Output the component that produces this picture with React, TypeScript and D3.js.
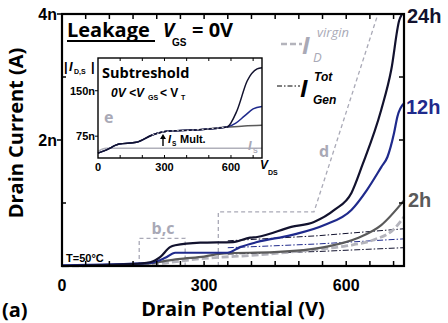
import React, { useEffect, useRef } from 'react';
import * as d3 from 'd3';

// main panel: drain potential (V) vs drain current (nA)
const v24 = [0, 144, 186, 207, 228, 239, 292, 361, 397, 412, 484, 532, 575, 611, 634, 674, 695, 712, 718];
const i24 = [0, 0.03, 0.06, 0.14, 0.3, 0.33, 0.37, 0.38, 0.45, 0.46, 0.62, 0.7, 0.89, 1.16, 1.6, 2.48, 3.11, 3.9, 4.0];

const v12 = [0, 186, 218, 239, 349, 376, 412, 484, 554, 611, 644, 674, 687, 701, 708, 723];
const i12 = [0.01, 0.05, 0.13, 0.21, 0.21, 0.3, 0.38, 0.49, 0.65, 0.89, 1.21, 1.57, 1.73, 2.11, 2.37, 2.59];

const v2 = [0, 186, 218, 245, 300, 342, 448, 554, 623, 674, 723];
const i2 = [0, 0.04, 0.08, 0.11, 0.15, 0.2, 0.22, 0.3, 0.44, 0.65, 1.05];

const vVirgin = [0, 186, 300, 420, 520, 600, 660, 700, 722];
const iVirgin = [0, 0.03, 0.12, 0.18, 0.25, 0.32, 0.42, 0.58, 0.78];

const vGen = [350, 540, 720];
const iGen24 = [0.4, 0.48, 0.59];
const iGen12 = [0.29, 0.35, 0.43];
const iGen2 = [0.19, 0.23, 0.29];

// dashed regions b,c and d
const boxBC = [163, 260, 0.44];
const boxD = [[330, 0], [330, 0.86], [532, 0.86], [667, 4.0]];

// inset: subthreshold |I_D,S| (nA) vs V_DS
const insV24 = [0, 36, 95, 173, 245, 309, 427, 582, 627, 673, 718, 740];
const insI24 = [47, 52, 62, 65, 77, 83, 85, 90, 117, 166, 186, 188];
const insV12 = [0, 36, 95, 173, 245, 309, 427, 582, 620, 660, 700, 740];
const insI12 = [47, 52, 62, 65, 77, 83, 85, 90, 96, 108, 120, 124];
const insV2 = [0, 36, 95, 173, 245, 309, 427, 582, 660, 740];
const insI2 = [47, 52, 62, 65, 77, 83, 85, 90, 92, 93];
const insVS = [0, 36, 740];
const insIS = [50, 55, 55];

const xTicks = [0, 300, 600];
const yTicks = [2, 4];
const insXTicks = [0, 300, 600];
const insYTicks = [75, 150];

const C24 = '#12122e';
const C12 = '#1f2a8c';
const C2 = '#5a5a5a';
const CGREY = '#a9a9b6';
const FT = "'Open Sans', 'DejaVu Sans', sans-serif";
const FA = "'Liberation Sans', Arial, sans-serif";

const zip = (a: number[], b: number[]) => a.map((v, i) => [v, b[i]] as [number, number]);

const App: React.FC = () => {
  const svgRef = useRef<SVGSVGElement>(null);

  useEffect(() => {
    if (!svgRef.current) return;
    const svg = d3.select(svgRef.current);
    svg.selectAll('*').remove();

    const txt = (
      x: number, y: number, s: string,
      o: { size: number; fill?: string; anchor?: string; italic?: boolean; family?: string; weight?: string }
    ) =>
      svg.append('text')
        .attr('x', x).attr('y', y)
        .attr('font-size', o.size)
        .attr('font-family', o.family || FA)
        .attr('font-weight', o.weight || 'bold')
        .attr('font-style', o.italic ? 'italic' : 'normal')
        .attr('text-anchor', o.anchor || 'start')
        .attr('fill', o.fill || '#000')
        .text(s);

    // Main scales
    const x = d3.scaleLinear().domain([0, 722]).range([62, 404]);
    const y = d3.scaleLinear().domain([0, 4]).range([266, 14]);

    const line = d3.line<[number, number]>()
      .x(d => x(d[0]))
      .y(d => y(d[1]))
      .curve(d3.curveMonotoneX);

    // Dashed region boxes
    svg.append('path')
      .attr('d', `M${x(boxBC[0])},${y(0)}V${y(boxBC[2])}H${x(boxBC[1])}V${y(0)}`)
      .attr('fill', 'none').attr('stroke', CGREY).attr('stroke-width', 1.3)
      .attr('stroke-dasharray', '4,3');
    svg.append('path')
      .attr('d', d3.line<number[]>().x(d => x(d[0])).y(d => y(d[1]))(boxD))
      .attr('fill', 'none').attr('stroke', CGREY).attr('stroke-width', 1.3)
      .attr('stroke-dasharray', '4,3');

    // Generation current (dash-dot)
    [[iGen2, C24], [iGen12, C12], [iGen24, C24]].forEach(([ys, c]) => {
      svg.append('path')
        .attr('d', d3.line<[number, number]>().x(d => x(d[0])).y(d => y(d[1]))(zip(vGen, ys as number[])))
        .attr('fill', 'none').attr('stroke', c as string).attr('stroke-width', 1)
        .attr('stroke-dasharray', '6,2,1.5,2');
    });

    // Virgin drain current
    svg.append('path').attr('d', line(zip(vVirgin, iVirgin)))
      .attr('fill', 'none').attr('stroke', '#b4b4bc').attr('stroke-width', 2.8)
      .attr('stroke-dasharray', '7,3');

    // Stressed curves
    [[v2, i2, C2], [v12, i12, C12], [v24, i24, C24]].forEach(([xs, ys, c]) => {
      svg.append('path').attr('d', line(zip(xs as number[], ys as number[])))
        .attr('fill', 'none').attr('stroke', c as string).attr('stroke-width', 2.2);
    });

    // Frame
    svg.append('rect').attr('x', 62).attr('y', 14).attr('width', 342).attr('height', 252)
      .attr('fill', 'none').attr('stroke', '#000').attr('stroke-width', 2.2);

    // Tick marks
    const tk = svg.append('g').attr('stroke', '#000').attr('stroke-width', 1.5);
    d3.range(50, 722, 50).forEach(v => {
      tk.append('line').attr('x1', x(v)).attr('x2', x(v)).attr('y1', 266).attr('y2', 261);
      tk.append('line').attr('x1', x(v)).attr('x2', x(v)).attr('y1', 14).attr('y2', 19);
    });
    [1, 3].forEach(v => {
      tk.append('line').attr('x1', 62).attr('x2', 66).attr('y1', y(v)).attr('y2', y(v));
    });
    yTicks.forEach(v => {
      tk.append('line').attr('x1', 57).attr('x2', 62).attr('y1', y(v)).attr('y2', y(v));
    });
    [1, 2, 3].forEach(v => {
      tk.append('line').attr('x1', 404).attr('x2', 399).attr('y1', y(v)).attr('y2', y(v));
    });

    // Tick labels
    xTicks.forEach(v => txt(x(v), 291, String(v), { size: 16, anchor: 'middle' }));
    yTicks.forEach(v => txt(57, y(v) + 6, `${v}n`, { size: 16, anchor: 'end' }));

    // Axis titles
    svg.append('text')
      .attr('transform', 'translate(23,133) rotate(-90)')
      .attr('text-anchor', 'middle').attr('font-size', 20).attr('font-weight', 'bold')
      .attr('font-family', FT).text('Drain Current (A)');
    txt(233, 316, 'Drain Potential (V)', { size: 20, anchor: 'middle', family: FT });
    txt(2, 317, '(a)', { size: 20, family: FT });

    // Hour labels
    txt(407, 23, '24h', { size: 20, fill: C24 });
    txt(406, 114, '12h', { size: 20, fill: C12 });
    txt(408, 207, '2h', { size: 20, fill: C2 });

    // Region labels
    txt(163, 234, 'b,c', { size: 16, anchor: 'middle', fill: CGREY, family: FT });
    txt(324, 157, 'd', { size: 16, anchor: 'middle', fill: CGREY, family: FT });
    txt(66, 262, 'T=50°C', { size: 11 });

    // Header
    txt(67, 37, 'Leakage', { size: 20, family: FT });
    svg.append('line').attr('x1', 67).attr('x2', 155).attr('y1', 41).attr('y2', 41)
      .attr('stroke', '#000').attr('stroke-width', 1.8);
    txt(163, 37, 'V', { size: 19, italic: true, family: FT });
    txt(172, 46, 'GS', { size: 10 });
    txt(192, 37, '= 0V', { size: 20, family: FT });

    // Legend
    svg.append('line').attr('x1', 281).attr('x2', 302).attr('y1', 44).attr('y2', 44)
      .attr('stroke', '#b4b4bc').attr('stroke-width', 2.5).attr('stroke-dasharray', '6,3');
    txt(302, 54, 'I', { size: 24, italic: true, fill: CGREY, family: FT });
    txt(317, 37, 'virgin', { size: 13, italic: true, fill: CGREY, family: FT, weight: 'normal' });
    txt(313, 62, 'D', { size: 13, italic: true, fill: CGREY, family: FT, weight: 'normal' });

    svg.append('line').attr('x1', 277).attr('x2', 300).attr('y1', 86).attr('y2', 86)
      .attr('stroke', '#000').attr('stroke-width', 1).attr('stroke-dasharray', '5,2,1.5,2');
    txt(300, 97, 'I', { size: 24, italic: true, family: FT });
    txt(314, 81, 'Tot', { size: 12, italic: true });
    txt(313, 104, 'Gen', { size: 12, italic: true });

    // Inset
    const ix = d3.scaleLinear().domain([0, 740]).range([98, 262]);
    const iy = d3.scaleLinear().domain([39, 204]).range([158, 58]);
    const iline = d3.line<[number, number]>()
      .x(d => ix(d[0]))
      .y(d => iy(d[1]))
      .curve(d3.curveMonotoneX);

    svg.append('rect').attr('x', 98).attr('y', 58).attr('width', 164).attr('height', 100)
      .attr('fill', '#fff');

    svg.append('path').attr('d', iline(zip(insVS, insIS)))
      .attr('fill', 'none').attr('stroke', '#b0b0ba').attr('stroke-width', 1.4);
    [[insV2, insI2, C2], [insV12, insI12, C12], [insV24, insI24, C24]].forEach(([xs, ys, c]) => {
      svg.append('path').attr('d', iline(zip(xs as number[], ys as number[])))
        .attr('fill', 'none').attr('stroke', c as string).attr('stroke-width', 1.5);
    });
    svg.append('path').attr('d', iline(zip(insV24.slice(4, 8), insI24.slice(4, 8))))
      .attr('fill', 'none').attr('stroke', '#c8c8d0').attr('stroke-width', 1)
      .attr('stroke-dasharray', '2,3');

    svg.append('rect').attr('x', 98).attr('y', 58).attr('width', 164).attr('height', 100)
      .attr('fill', 'none').attr('stroke', '#000').attr('stroke-width', 1.4);

    const itk = svg.append('g').attr('stroke', '#000').attr('stroke-width', 1);
    d3.range(100, 740, 100).forEach(v => {
      itk.append('line').attr('x1', ix(v)).attr('x2', ix(v)).attr('y1', 158).attr('y2', 155);
      itk.append('line').attr('x1', ix(v)).attr('x2', ix(v)).attr('y1', 58).attr('y2', 61);
    });
    insYTicks.forEach(v => {
      itk.append('line').attr('x1', 95).attr('x2', 98).attr('y1', iy(v)).attr('y2', iy(v));
    });
    insXTicks.forEach(v => txt(ix(v), 171, String(v), { size: 11, anchor: 'middle' }));
    insYTicks.forEach(v => txt(95, iy(v) + 4, `${v}n`, { size: 11, anchor: 'end' }));

    txt(64, 71, '|', { size: 13 });
    txt(69, 71, 'I', { size: 13, italic: true });
    txt(74, 74, 'D,S', { size: 7 });
    txt(91, 71, '|', { size: 13 });
    txt(260, 169, 'V', { size: 12, italic: true });
    txt(268, 175, 'DS', { size: 7 });

    txt(102, 78, 'Subtreshold', { size: 14.5, family: FT });
    txt(111, 97, '0V <V', { size: 12, italic: true });
    txt(148, 100, 'GS', { size: 7 });
    txt(160, 97, '< V', { size: 12 });
    txt(181, 100, 'T', { size: 7 });
    txt(104, 123, 'e', { size: 16, fill: CGREY, family: FT });

    // Multiplication arrow
    svg.append('line').attr('x1', 163).attr('x2', 163).attr('y1', 146).attr('y2', 136)
      .attr('stroke', '#000').attr('stroke-width', 1.4);
    svg.append('path').attr('d', 'M160,139L163,134L166,139Z').attr('fill', '#000');
    txt(168, 143, 'I', { size: 11, italic: true });
    txt(172, 146, 'S', { size: 6.5 });
    txt(180, 143, 'Mult.', { size: 11 });
    txt(248, 150, 'I', { size: 13, italic: true, fill: CGREY });
    txt(253, 153, 'S', { size: 7, fill: CGREY });
  }, []);

  return (
    <div style={{ position: 'absolute', left: 0, top: 0 }}>
      <svg ref={svgRef} width={448} height={323} style={{ display: 'block', background: '#fff' }}></svg>
    </div>
  );
};

export default App;
